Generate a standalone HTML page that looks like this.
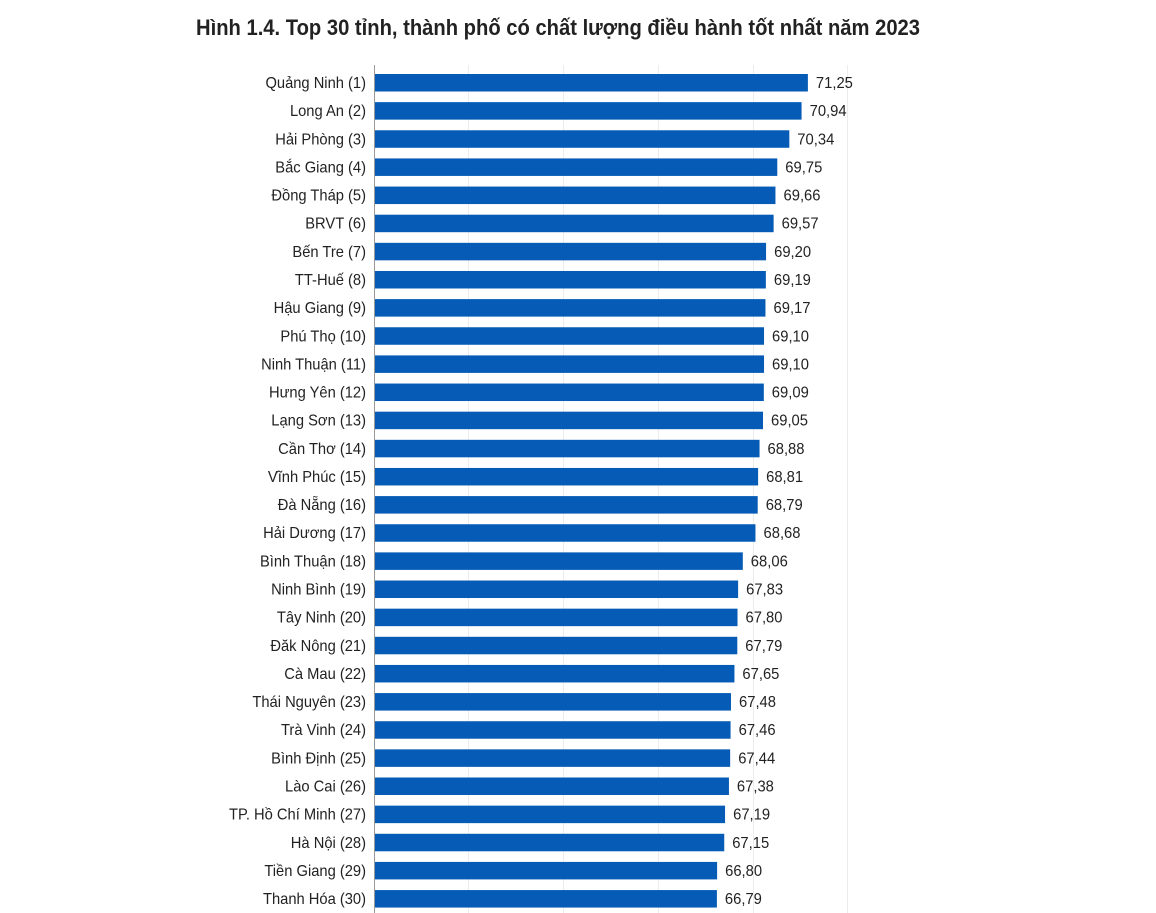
<!DOCTYPE html>
<html><head><meta charset="utf-8"><style>
html,body{margin:0;padding:0;background:#fff;}
svg{display:block;}
text{font-family:"Liberation Sans Narrow","Liberation Sans","DejaVu Sans Condensed",sans-serif;fill:#222;}
</style></head><body>
<svg width="1156" height="913" viewBox="0 0 1156 913" xmlns="http://www.w3.org/2000/svg">
<text x="196" y="35" font-size="22" font-weight="bold" textLength="724" lengthAdjust="spacingAndGlyphs" fill="#111">Hình 1.4. Top 30 tỉnh, thành phố có chất lượng điều hành tốt nhất năm 2023</text>
<g stroke="#ececec" stroke-width="1">
<line x1="468.5" y1="65" x2="468.5" y2="913"/><line x1="563.5" y1="65" x2="563.5" y2="913"/><line x1="658.5" y1="65" x2="658.5" y2="913"/><line x1="753.5" y1="65" x2="753.5" y2="913"/><line x1="847.5" y1="65" x2="847.5" y2="913"/>
</g>
<line x1="374.5" y1="65" x2="374.5" y2="913" stroke="#999" stroke-width="1"/>
<g fill="#055bb5">
<rect x="375" y="74" width="432.89" height="17.5"/>
<rect x="375" y="102.14" width="426.56" height="17.5"/>
<rect x="375" y="130.28" width="414.32" height="17.5"/>
<rect x="375" y="158.42" width="402.29" height="17.5"/>
<rect x="375" y="186.56" width="400.45" height="17.5"/>
<rect x="375" y="214.70" width="398.62" height="17.5"/>
<rect x="375" y="242.84" width="391.07" height="17.5"/>
<rect x="375" y="270.98" width="390.86" height="17.5"/>
<rect x="375" y="299.12" width="390.46" height="17.5"/>
<rect x="375" y="327.26" width="389.03" height="17.5"/>
<rect x="375" y="355.40" width="389.03" height="17.5"/>
<rect x="375" y="383.54" width="388.82" height="17.5"/>
<rect x="375" y="411.68" width="388.01" height="17.5"/>
<rect x="375" y="439.82" width="384.54" height="17.5"/>
<rect x="375" y="467.96" width="383.11" height="17.5"/>
<rect x="375" y="496.10" width="382.70" height="17.5"/>
<rect x="375" y="524.24" width="380.46" height="17.5"/>
<rect x="375" y="552.38" width="367.81" height="17.5"/>
<rect x="375" y="580.52" width="363.12" height="17.5"/>
<rect x="375" y="608.66" width="362.51" height="17.5"/>
<rect x="375" y="636.80" width="362.30" height="17.5"/>
<rect x="375" y="664.94" width="359.45" height="17.5"/>
<rect x="375" y="693.08" width="355.98" height="17.5"/>
<rect x="375" y="721.22" width="355.57" height="17.5"/>
<rect x="375" y="749.36" width="355.16" height="17.5"/>
<rect x="375" y="777.50" width="353.94" height="17.5"/>
<rect x="375" y="805.64" width="350.06" height="17.5"/>
<rect x="375" y="833.78" width="349.25" height="17.5"/>
<rect x="375" y="861.92" width="342.11" height="17.5"/>
<rect x="375" y="890.06" width="341.90" height="17.5"/>
</g>
<g transform="translate(366,0) scale(0.92,1)" font-size="16" text-anchor="end">
<text x="0" y="88">Quảng Ninh (1)</text>
<text x="0" y="116.14">Long An (2)</text>
<text x="0" y="144.28">Hải Phòng (3)</text>
<text x="0" y="172.42">Bắc Giang (4)</text>
<text x="0" y="200.56">Đồng Tháp (5)</text>
<text x="0" y="228.70">BRVT (6)</text>
<text x="0" y="256.84">Bến Tre (7)</text>
<text x="0" y="284.98">TT-Huế (8)</text>
<text x="0" y="313.12">Hậu Giang (9)</text>
<text x="0" y="341.26">Phú Thọ (10)</text>
<text x="0" y="369.40">Ninh Thuận (11)</text>
<text x="0" y="397.54">Hưng Yên (12)</text>
<text x="0" y="425.68">Lạng Sơn (13)</text>
<text x="0" y="453.82">Cần Thơ (14)</text>
<text x="0" y="481.96">Vĩnh Phúc (15)</text>
<text x="0" y="510.10">Đà Nẵng (16)</text>
<text x="0" y="538.24">Hải Dương (17)</text>
<text x="0" y="566.38">Bình Thuận (18)</text>
<text x="0" y="594.52">Ninh Bình (19)</text>
<text x="0" y="622.66">Tây Ninh (20)</text>
<text x="0" y="650.80">Đăk Nông (21)</text>
<text x="0" y="678.94">Cà Mau (22)</text>
<text x="0" y="707.08">Thái Nguyên (23)</text>
<text x="0" y="735.22">Trà Vinh (24)</text>
<text x="0" y="763.36">Bình Định (25)</text>
<text x="0" y="791.50">Lào Cai (26)</text>
<text x="0" y="819.64">TP. Hồ Chí Minh (27)</text>
<text x="0" y="847.78">Hà Nội (28)</text>
<text x="0" y="875.92">Tiền Giang (29)</text>
<text x="0" y="904.06">Thanh Hóa (30)</text>
</g>
<g font-size="16">
<text x="815.9" y="88" textLength="37" lengthAdjust="spacingAndGlyphs">71,25</text>
<text x="809.6" y="116.14" textLength="37" lengthAdjust="spacingAndGlyphs">70,94</text>
<text x="797.3" y="144.28" textLength="37" lengthAdjust="spacingAndGlyphs">70,34</text>
<text x="785.3" y="172.42" textLength="37" lengthAdjust="spacingAndGlyphs">69,75</text>
<text x="783.5" y="200.56" textLength="37" lengthAdjust="spacingAndGlyphs">69,66</text>
<text x="781.6" y="228.70" textLength="37" lengthAdjust="spacingAndGlyphs">69,57</text>
<text x="774.1" y="256.84" textLength="37" lengthAdjust="spacingAndGlyphs">69,20</text>
<text x="773.9" y="284.98" textLength="37" lengthAdjust="spacingAndGlyphs">69,19</text>
<text x="773.5" y="313.12" textLength="37" lengthAdjust="spacingAndGlyphs">69,17</text>
<text x="772.0" y="341.26" textLength="37" lengthAdjust="spacingAndGlyphs">69,10</text>
<text x="772.0" y="369.40" textLength="37" lengthAdjust="spacingAndGlyphs">69,10</text>
<text x="771.8" y="397.54" textLength="37" lengthAdjust="spacingAndGlyphs">69,09</text>
<text x="771.0" y="425.68" textLength="37" lengthAdjust="spacingAndGlyphs">69,05</text>
<text x="767.5" y="453.82" textLength="37" lengthAdjust="spacingAndGlyphs">68,88</text>
<text x="766.1" y="481.96" textLength="37" lengthAdjust="spacingAndGlyphs">68,81</text>
<text x="765.7" y="510.10" textLength="37" lengthAdjust="spacingAndGlyphs">68,79</text>
<text x="763.5" y="538.24" textLength="37" lengthAdjust="spacingAndGlyphs">68,68</text>
<text x="750.8" y="566.38" textLength="37" lengthAdjust="spacingAndGlyphs">68,06</text>
<text x="746.1" y="594.52" textLength="37" lengthAdjust="spacingAndGlyphs">67,83</text>
<text x="745.5" y="622.66" textLength="37" lengthAdjust="spacingAndGlyphs">67,80</text>
<text x="745.3" y="650.80" textLength="37" lengthAdjust="spacingAndGlyphs">67,79</text>
<text x="742.4" y="678.94" textLength="37" lengthAdjust="spacingAndGlyphs">67,65</text>
<text x="739.0" y="707.08" textLength="37" lengthAdjust="spacingAndGlyphs">67,48</text>
<text x="738.6" y="735.22" textLength="37" lengthAdjust="spacingAndGlyphs">67,46</text>
<text x="738.2" y="763.36" textLength="37" lengthAdjust="spacingAndGlyphs">67,44</text>
<text x="736.9" y="791.50" textLength="37" lengthAdjust="spacingAndGlyphs">67,38</text>
<text x="733.1" y="819.64" textLength="37" lengthAdjust="spacingAndGlyphs">67,19</text>
<text x="732.2" y="847.78" textLength="37" lengthAdjust="spacingAndGlyphs">67,15</text>
<text x="725.1" y="875.92" textLength="37" lengthAdjust="spacingAndGlyphs">66,80</text>
<text x="724.9" y="904.06" textLength="37" lengthAdjust="spacingAndGlyphs">66,79</text>
</g>
</svg>
</body></html>
